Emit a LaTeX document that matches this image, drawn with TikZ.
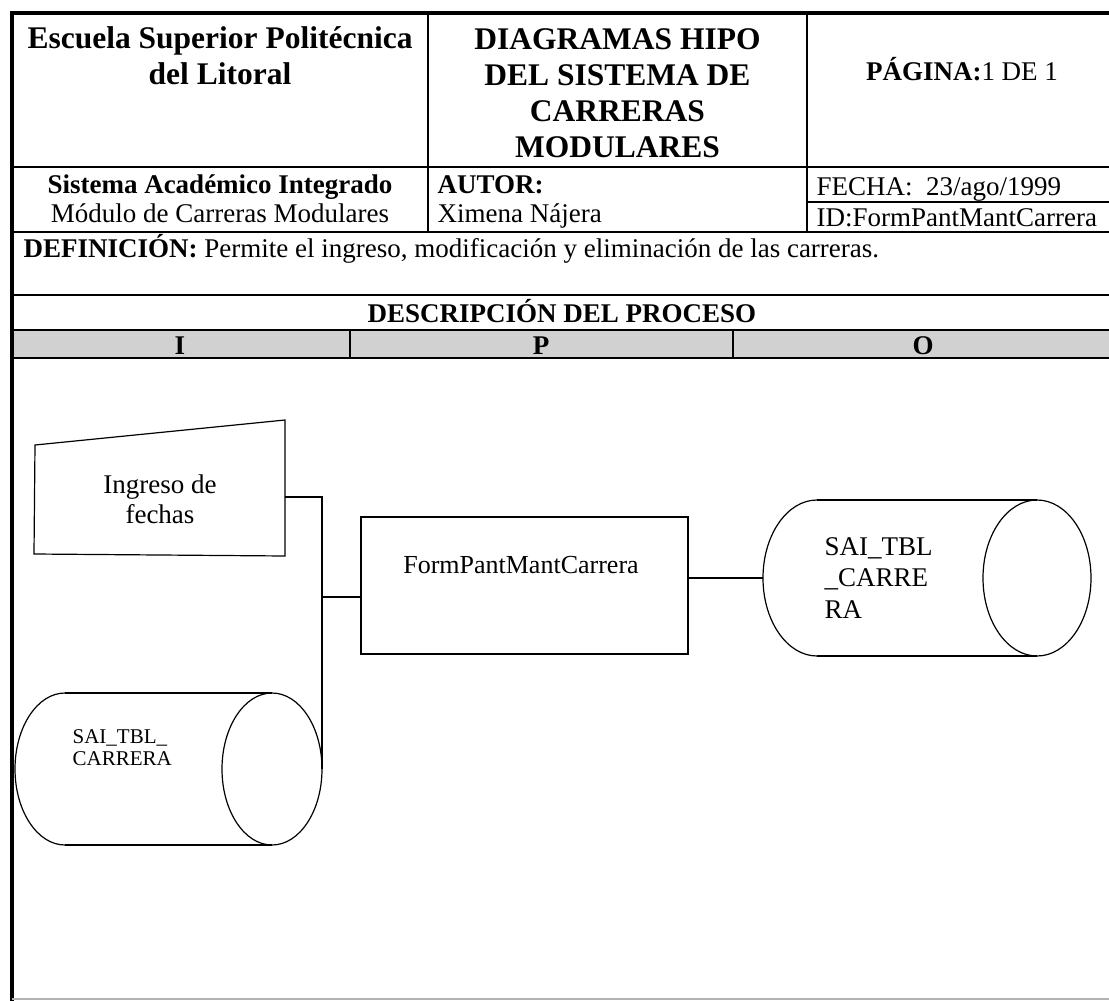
\documentclass[tikz,border=0pt]{standalone}
\usepackage{fontspec}
\setmainfont{Liberation Serif}
\begin{document}
\begin{tikzpicture}[x=1pt, y=-1pt, line width=1.2pt,
  frame/.style={line width=4.5pt},
  band/.style={fill=black!18, draw=none},
  big/.style={font=\fontsize{31.5}{36}\selectfont\bfseries, inner sep=0pt, anchor=base, align=center},
  txt/.style={font=\fontsize{27}{29}\selectfont, inner sep=0pt, anchor=base},
  small/.style={font=\fontsize{21}{22}\selectfont, inner sep=0pt, anchor=base west, align=left},
  procbox/.style={draw, minimum width=327pt, minimum height=137pt, inner sep=0pt}]
  \useasboundingbox (0,0) rectangle (1109,1001);
  \clip (0,0) rectangle (1109,1001);
  % encabezado (base = ultima linea)
  \fill[band] (12,330) rectangle (1117,358);
  \draw (428,13) -- (428,232);
  \draw (807,13) -- (807,232);
  \draw (12,167) -- (1117,167);
  \draw (807,202) -- (1117,202);
  \draw (12,232) -- (1117,232);
  \draw (12,295) -- (1117,295);
  \draw (12,330) -- (1117,330);
  \draw (12,358) -- (1117,358);
  \draw (350,330) -- (350,358);
  \draw (733,330) -- (733,358);
  \draw[frame] (12,1001) |- (1117,13);
  \draw[gray!60, line width=1.5pt] (12,999) -- (1117,999);
  \node[big] (escuela) at (220,84) {Escuela Superior Politécnica\\del Litoral};
  \node[big] (titulo) at (617.5,157) {DIAGRAMAS HIPO\\DEL SISTEMA DE\\CARRERAS\\MODULARES};
  \node[txt] (pagina) at (962,80) {\textbf{PÁGINA:}1 DE 1};
  \node[txt, align=center] (sistema) at (220,222) {\textbf{Sistema Académico Integrado}\\Módulo de Carreras Modulares};
  \node[txt, anchor=base west, align=left] (autor) at (437,222) {\textbf{AUTOR:}\\Ximena Nájera};
  \node[txt, anchor=base west] (fecha) at (816,195) {FECHA:\ \ 23/ago/1999};
  \node[txt, anchor=base west] (idform) at (816,226) {ID:FormPantMantCarrera};
  \node[txt, anchor=base west] (defin) at (23,257) {\textbf{DEFINICIÓN:} Permite el ingreso, modificación y eliminación de las carreras.};
  \node[txt, font=\fontsize{27}{29}\selectfont\bfseries] (desc) at (562,322) {DESCRIPCIÓN DEL PROCESO};
  \node[txt, font=\fontsize{27}{29}\selectfont\bfseries] (colI) at (180,354) {I};
  \node[txt, font=\fontsize{27}{29}\selectfont\bfseries] (colP) at (541,354) {P};
  \node[txt, font=\fontsize{27}{29}\selectfont\bfseries] (colO) at (923,354) {O};
  % entrada manual
  \coordinate (ing-nw) at (35,445);
  \coordinate (ing-ne) at (285,420);
  \coordinate (ing-se) at (285,556);
  \coordinate (ing-sw) at (34,554);
  \coordinate (ing-e) at (285,497);
  \draw (ing-nw) -- (ing-ne) -- (ing-se) -- (ing-sw) -- cycle;
  \node[txt, align=center, font=\fontsize{27}{30}\selectfont] (ingreso) at (160,523) {Ingreso de\\fechas};
  % proceso
  \node[procbox] (proc) at (524.5,585.5) {};
  \node[txt, font=\fontsize{26}{29}\selectfont] (procT) at (521,573) {FormPantMantCarrera};
  % tablas
  \draw (65,693) -- (272,693) (65,845) -- (272,845);
  \draw (65,693) arc[start angle=270, end angle=90, x radius=50, y radius=76];
  \draw (272,769) ellipse[x radius=50, y radius=76];
  \coordinate (tblA-e) at (322,769);
  \node[small] (tblA) at (72,765) {SAI\_TBL\_\\CARRERA};
  \draw (817,500) -- (1037,500) (817,656) -- (1037,656);
  \draw (817,500) arc[start angle=270, end angle=90, x radius=54, y radius=78];
  \draw (1037,578) ellipse[x radius=54, y radius=78];
  \coordinate (tblB-w) at (763,578);
  \node[txt, anchor=base west, align=left, font=\fontsize{27}{31.5}\selectfont] (tblB) at (824,618) {SAI\_TBL\\\_CARRE\\RA};
  % conectores
  \draw (ing-e) -| (tblA-e);
  \coordinate (jn) at (322,597);
  \draw (jn) -- (jn -| proc.west);
  \draw (tblB-w -| proc.east) -- (tblB-w);
\end{tikzpicture}
\end{document}
